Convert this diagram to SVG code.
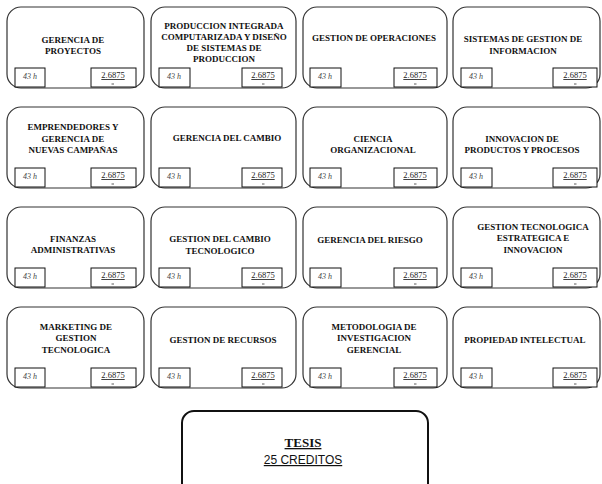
<svg xmlns="http://www.w3.org/2000/svg" width="602" height="484" viewBox="0 0 602 484">
<style>
.card{fill:#fff;stroke:#333;stroke-width:1.2}
.sb{fill:#fff;stroke:#111;stroke-width:1}
.t{font-family:"Liberation Serif",serif;font-weight:bold;font-size:9px;text-anchor:middle;fill:#111}
.h{font-family:"Liberation Serif",serif;font-style:italic;font-size:8px;text-anchor:middle;fill:#444}
.c{font-family:"Liberation Serif",serif;font-size:8.5px;text-anchor:middle;fill:#222;text-decoration:underline}
.d{stroke:#333;stroke-width:0.8}
.tes{fill:#fff;stroke:#111;stroke-width:2}
</style>
<rect width="602" height="484" fill="#fff"/>
<g id="connectors"/>

<!-- Row 1 -->
<g id="n1">
<rect class="card" x="7" y="7" width="137" height="81" rx="14"/>
<text class="t" x="73" y="43">GERENCIA DE</text><text class="t" x="73" y="54">PROYECTOS</text>
<rect class="sb" x="15" y="68" width="30" height="19"/><text class="h" x="30" y="79">43 h</text>
<rect class="sb" x="91" y="68" width="45" height="19"/><text class="c" x="113" y="78">2.6875</text><line class="d" x1="111.5" y1="84" x2="114" y2="84"/>
</g>
<g id="n2">
<rect class="card" x="151" y="7" width="145" height="81" rx="14"/>
<text class="t" x="224" y="29">PRODUCCION INTEGRADA</text><text class="t" x="224" y="40">COMPUTARIZADA Y DISEÑO</text><text class="t" x="224" y="51">DE SISTEMAS DE</text><text class="t" x="224" y="62">PRODUCCION</text>
<rect class="sb" x="159" y="68" width="31" height="19"/><text class="h" x="174" y="79">43 h</text>
<rect class="sb" x="242" y="68" width="40" height="19"/><text class="c" x="263" y="78">2.6875</text><line class="d" x1="262" y1="84" x2="264.5" y2="84"/>
</g>
<g id="n3">
<rect class="card" x="303" y="7" width="144" height="81" rx="14"/>
<text class="t" x="374" y="41">GESTION DE OPERACIONES</text>
<rect class="sb" x="310" y="68" width="31" height="19"/><text class="h" x="325" y="79">43 h</text>
<rect class="sb" x="394" y="68" width="43" height="19"/><text class="c" x="415" y="78">2.6875</text><line class="d" x1="414" y1="84" x2="416.5" y2="84"/>
</g>
<g id="n4">
<rect class="card" x="453" y="7" width="147" height="81" rx="14"/>
<text class="t" x="523" y="42">SISTEMAS DE GESTION DE</text><text class="t" x="523" y="54">INFORMACION</text>
<rect class="sb" x="461" y="68" width="31" height="19"/><text class="h" x="476" y="79">43 h</text>
<rect class="sb" x="553" y="68" width="44" height="19"/><text class="c" x="575" y="78">2.6875</text><line class="d" x1="574" y1="84" x2="576.5" y2="84"/>
</g>

<!-- Row 2 -->
<g id="n5">
<rect class="card" x="7" y="107" width="137" height="81" rx="14"/>
<text class="t" x="73" y="130">EMPRENDEDORES Y</text><text class="t" x="73" y="142">GERENCIA DE</text><text class="t" x="73" y="153">NUEVAS CAMPAÑAS</text>
<rect class="sb" x="15" y="168" width="30" height="19"/><text class="h" x="30" y="179">43 h</text>
<rect class="sb" x="91" y="168" width="45" height="19"/><text class="c" x="113" y="178">2.6875</text><line class="d" x1="111.5" y1="184" x2="114" y2="184"/>
</g>
<g id="n6">
<rect class="card" x="151" y="107" width="145" height="81" rx="14"/>
<text class="t" x="227" y="141">GERENCIA DEL CAMBIO</text>
<rect class="sb" x="159" y="168" width="31" height="19"/><text class="h" x="174" y="179">43 h</text>
<rect class="sb" x="242" y="168" width="40" height="19"/><text class="c" x="263" y="178">2.6875</text><line class="d" x1="262" y1="184" x2="264.5" y2="184"/>
</g>
<g id="n7">
<rect class="card" x="303" y="107" width="144" height="81" rx="14"/>
<text class="t" x="373" y="142">CIENCIA</text><text class="t" x="373" y="153">ORGANIZACIONAL</text>
<rect class="sb" x="310" y="168" width="31" height="19"/><text class="h" x="325" y="179">43 h</text>
<rect class="sb" x="394" y="168" width="43" height="19"/><text class="c" x="415" y="178">2.6875</text><line class="d" x1="414" y1="184" x2="416.5" y2="184"/>
</g>
<g id="n8">
<rect class="card" x="453" y="107" width="147" height="81" rx="14"/>
<text class="t" x="522" y="142">INNOVACION DE</text><text class="t" x="522" y="153">PRODUCTOS Y PROCESOS</text>
<rect class="sb" x="461" y="168" width="31" height="19"/><text class="h" x="476" y="179">43 h</text>
<rect class="sb" x="553" y="168" width="44" height="19"/><text class="c" x="575" y="178">2.6875</text><line class="d" x1="574" y1="184" x2="576.5" y2="184"/>
</g>

<!-- Row 3 -->
<g id="n9">
<rect class="card" x="7" y="207" width="137" height="81" rx="14"/>
<text class="t" x="73" y="242">FINANZAS</text><text class="t" x="73" y="253">ADMINISTRATIVAS</text>
<rect class="sb" x="15" y="268" width="30" height="19"/><text class="h" x="30" y="279">43 h</text>
<rect class="sb" x="91" y="268" width="45" height="19"/><text class="c" x="113" y="278">2.6875</text><line class="d" x1="111.5" y1="284" x2="114" y2="284"/>
</g>
<g id="n10">
<rect class="card" x="151" y="207" width="145" height="81" rx="14"/>
<text class="t" x="220" y="242">GESTION DEL CAMBIO</text><text class="t" x="220" y="254">TECNOLOGICO</text>
<rect class="sb" x="159" y="268" width="31" height="19"/><text class="h" x="174" y="279">43 h</text>
<rect class="sb" x="242" y="268" width="40" height="19"/><text class="c" x="263" y="278">2.6875</text><line class="d" x1="262" y1="284" x2="264.5" y2="284"/>
</g>
<g id="n11">
<rect class="card" x="303" y="207" width="144" height="81" rx="14"/>
<text class="t" x="370" y="243">GERENCIA DEL RIESGO</text>
<rect class="sb" x="310" y="268" width="31" height="19"/><text class="h" x="325" y="279">43 h</text>
<rect class="sb" x="394" y="268" width="43" height="19"/><text class="c" x="415" y="278">2.6875</text><line class="d" x1="414" y1="284" x2="416.5" y2="284"/>
</g>
<g id="n12">
<rect class="card" x="453" y="207" width="147" height="81" rx="14"/>
<text class="t" x="533" y="230">GESTION TECNOLOGICA</text><text class="t" x="533" y="241">ESTRATEGICA E</text><text class="t" x="533" y="253">INNOVACION</text>
<rect class="sb" x="461" y="268" width="31" height="19"/><text class="h" x="476" y="279">43 h</text>
<rect class="sb" x="553" y="268" width="44" height="19"/><text class="c" x="575" y="278">2.6875</text><line class="d" x1="574" y1="284" x2="576.5" y2="284"/>
</g>

<!-- Row 4 -->
<g id="n13">
<rect class="card" x="7" y="307" width="137" height="81" rx="14"/>
<text class="t" x="76" y="330">MARKETING DE</text><text class="t" x="76" y="341">GESTION</text><text class="t" x="76" y="353">TECNOLOGICA</text>
<rect class="sb" x="15" y="368" width="30" height="19"/><text class="h" x="30" y="379">43 h</text>
<rect class="sb" x="91" y="368" width="45" height="19"/><text class="c" x="113" y="378">2.6875</text><line class="d" x1="111.5" y1="384" x2="114" y2="384"/>
</g>
<g id="n14">
<rect class="card" x="151" y="307" width="145" height="81" rx="14"/>
<text class="t" x="223" y="343">GESTION DE RECURSOS</text>
<rect class="sb" x="159" y="368" width="31" height="19"/><text class="h" x="174" y="379">43 h</text>
<rect class="sb" x="242" y="368" width="40" height="19"/><text class="c" x="263" y="378">2.6875</text><line class="d" x1="262" y1="384" x2="264.5" y2="384"/>
</g>
<g id="n15">
<rect class="card" x="303" y="307" width="144" height="81" rx="14"/>
<text class="t" x="374" y="330">METODOLOGIA DE</text><text class="t" x="374" y="341">INVESTIGACION</text><text class="t" x="374" y="353">GERENCIAL</text>
<rect class="sb" x="310" y="368" width="31" height="19"/><text class="h" x="325" y="379">43 h</text>
<rect class="sb" x="394" y="368" width="43" height="19"/><text class="c" x="415" y="378">2.6875</text><line class="d" x1="414" y1="384" x2="416.5" y2="384"/>
</g>
<g id="n16">
<rect class="card" x="453" y="307" width="147" height="81" rx="14"/>
<text class="t" x="525" y="343">PROPIEDAD INTELECTUAL</text>
<rect class="sb" x="461" y="368" width="31" height="19"/><text class="h" x="476" y="379">43 h</text>
<rect class="sb" x="553" y="368" width="44" height="19"/><text class="c" x="575" y="378">2.6875</text><line class="d" x1="574" y1="384" x2="576.5" y2="384"/>
</g>

<!-- Tesis -->
<g id="tesis">
<rect class="tes" x="182" y="411" width="246" height="86" rx="12"/>
<text x="303" y="447" font-family="'Liberation Serif',serif" font-weight="bold" font-size="13" text-anchor="middle" text-decoration="underline" fill="#111">TESIS</text>
<text x="303" y="464" font-family="'Liberation Sans',sans-serif" font-size="12" text-anchor="middle" text-decoration="underline" fill="#111">25 CREDITOS</text>
</g>
</svg>
